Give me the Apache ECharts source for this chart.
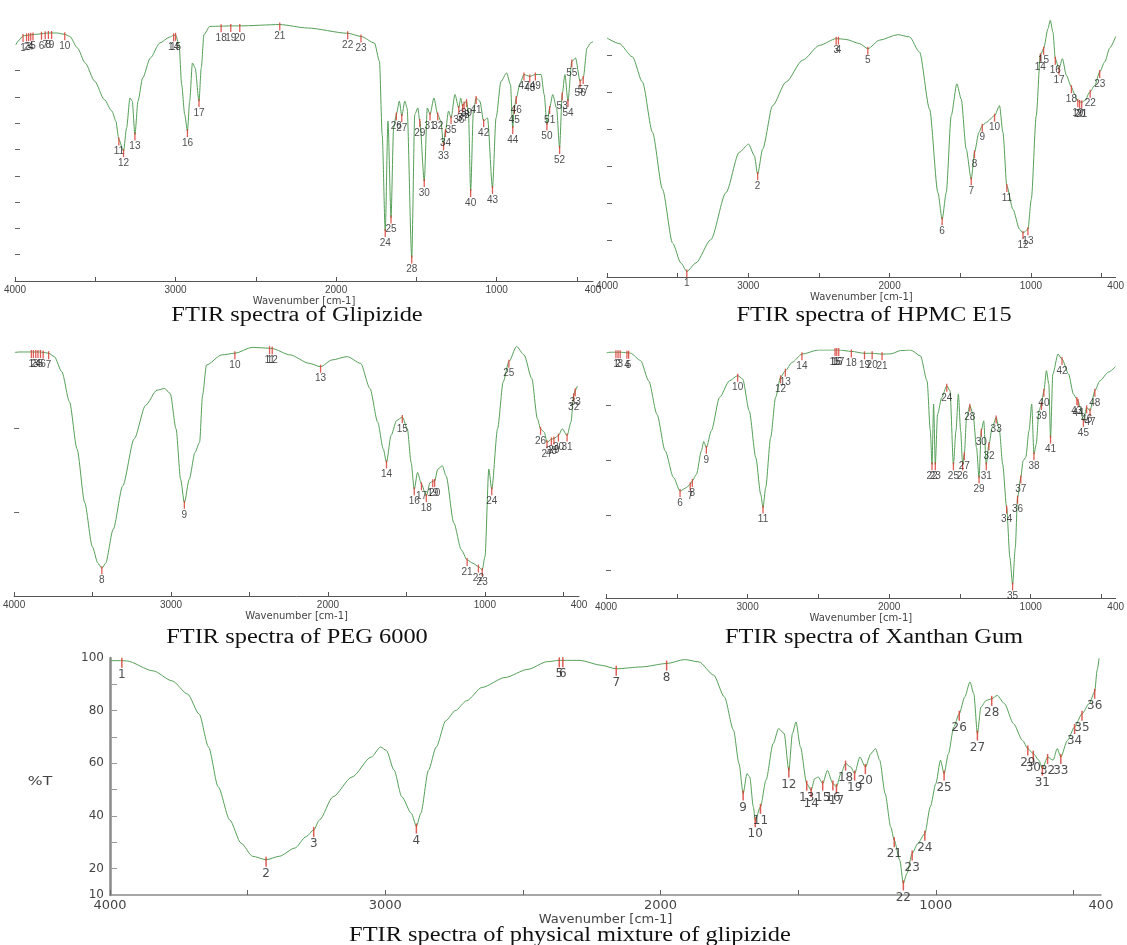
<!DOCTYPE html>
<html>
<head>
<meta charset="utf-8">
<title>FTIR spectra</title>
<script src="https://cdn.jsdelivr.net/npm/echarts@6/dist/echarts.min.js"></script>
<style>
  html, body { margin: 0; padding: 0; background: #ffffff; }
  #chart { width: 1127px; height: 945px; }
</style>
</head>
<body>
<div id="chart"></div>
<script>
// Wavenumber axis ticks and labels (cm-1)
const wavenumberTicks = [4000, 3500, 3000, 2500, 2000, 1500, 1000, 500];
const wavenumberLabels = [4000, 3000, 2000, 1000, 400];

const panelTitles = [
  'FTIR spectra of Glipizide',
  'FTIR spectra of HPMC E15',
  'FTIR spectra of PEG 6000',
  'FTIR spectra of Xanthan Gum',
  'FTIR spectra of physical mixture of glipizide'
];

// Spectrum traces: [wavenumber, %T]; peak picks: [peak no, wavenumber, %T]
const glipizideCurve = [
  [3995, 89.8], [3975, 91.6], [3870, 93.8], [3740, 94.3], [3659, 93.0], [3611, 88.6], [3563, 82.9],
  [3503, 75.9], [3444, 69.0], [3396, 64.6], [3372, 60.8], [3305, 58.2], [3284, 69.6], [3270, 68.4],
  [3234, 68.4], [3205, 77.2], [3157, 84.8], [3098, 90.5], [3038, 92.7], [2978, 89.9], [2962, 74.7],
  [2943, 63.3], [2912, 68.4], [2895, 82.9], [2878, 81.0], [2840, 81.0], [2823, 93.7], [2787, 96.8],
  [2179, 96.2], [1761, 90.5], [1730, 83.5], [1713, 55.7], [1677, 60.8], [1642, 58.2], [1606, 68.4],
  [1572, 68.4], [1558, 65.8], [1510, 63.3], [1491, 65.8], [1432, 65.8], [1391, 69.6], [1348, 60.8],
  [1300, 64.6], [1260, 70.9], [1224, 69.6], [1176, 64.6], [1145, 64.6], [1105, 68.4], [1057, 62.0],
  [1004, 62.0], [973, 75.9], [938, 79.1], [914, 74.7], [854, 75.3], [723, 78.5], [704, 70.9],
  [651, 70.9], [627, 65.8], [575, 78.5], [509, 84.8], [437, 88.6], [415, 90.5], [400, 91.0]
];
const glipizidePeaks = [
  [1, 3950, 93.2], [2, 3928, 93.4], [3, 3915, 93.5], [4, 3902, 93.6], [5, 3888, 93.7],
  [6, 3835, 94.0], [7, 3812, 94.2], [8, 3792, 94.3], [9, 3772, 94.3], [10, 3690, 93.8],
  [11, 3353, 53.8], [12, 3324, 49.4], [13, 3253, 55.7], [14, 3012, 93.4], [15, 3000, 93.6],
  [16, 2926, 57.0], [17, 2854, 68.4], [18, 2716, 96.9], [19, 2656, 97.0], [20, 2600, 97.0],
  [21, 2351, 97.5], [22, 1928, 94.2], [23, 1845, 93.0], [24, 1694, 19.0], [25, 1658, 24.1],
  [26, 1625, 63.3], [27, 1591, 62.7], [28, 1529, 8.9], [29, 1479, 60.8], [30, 1451, 38.0],
  [31, 1415, 63.3], [32, 1367, 63.3], [33, 1331, 51.9], [34, 1319, 57.0], [35, 1284, 62.0],
  [36, 1236, 65.8], [37, 1212, 66.5], [38, 1203, 67.5], [39, 1188, 68.4], [40, 1162, 34.2],
  [41, 1128, 69.6], [42, 1081, 60.8], [43, 1026, 35.4], [44, 900, 58.2], [45, 890, 65.8],
  [46, 878, 69.6], [47, 830, 78.5], [48, 794, 77.8], [49, 759, 78.5], [50, 687, 59.5],
  [51, 670, 65.8], [52, 608, 50.6], [53, 592, 70.9], [54, 556, 68.4], [55, 532, 83.5],
  [56, 480, 75.9], [57, 461, 77.2]
];

const hpmcCurve = [
  [4000, 94.6], [3914, 93.1], [3820, 89.5], [3749, 82.7], [3678, 69.1], [3607, 53.7], [3536, 39.2],
  [3477, 33.8], [3371, 33.8], [3265, 40.1], [3158, 52.8], [3064, 63.7], [2998, 65.9], [2957, 62.8],
  [2898, 64.6], [2828, 76.3], [2733, 82.7], [2615, 88.6], [2497, 92.6], [2308, 94.2], [2213, 93.1],
  [2072, 94.0], [1942, 95.5], [1859, 94.9], [1788, 90.8], [1717, 75.4], [1658, 52.8], [1599, 52.8],
  [1564, 73.6], [1524, 82.2], [1493, 78.1], [1458, 64.6], [1368, 69.1], [1316, 71.8], [1222, 76.3],
  [1198, 69.1], [1127, 48.3], [1080, 42.9], [997, 51.0], [962, 73.6], [879, 97.1], [863, 99.4],
  [844, 96.2], [777, 89.0], [749, 84.5], [690, 79.4], [619, 77.7], [548, 81.8], [478, 88.1],
  [440, 92.0], [400, 95.0]
];
const hpmcPeaks = [
  [1, 3435, 31.5], [2, 2934, 57.8], [3, 2378, 94.4], [4, 2362, 94.4], [5, 2154, 91.7],
  [6, 1628, 45.6], [7, 1422, 56.4], [8, 1399, 63.7], [9, 1344, 70.9], [10, 1257, 73.6],
  [11, 1170, 54.6], [12, 1056, 41.9], [13, 1021, 42.9], [14, 933, 89.9], [15, 910, 91.7],
  [16, 827, 89.0], [17, 801, 86.3], [18, 713, 81.3], [19, 668, 77.6], [20, 655, 77.3],
  [21, 640, 77.2], [22, 580, 80.1], [23, 513, 85.4]
];

const pegCurve = [
  [3995, 98.0], [3963, 98.1], [3744, 97.0], [3696, 93.4], [3647, 86.2], [3599, 75.0], [3550, 62.2],
  [3502, 51.8], [3466, 47.8], [3417, 47.8], [3369, 55.8], [3308, 66.2], [3235, 77.4], [3162, 85.4],
  [3090, 89.0], [3041, 89.4], [3005, 88.2], [2968, 79.8], [2939, 67.8], [2884, 67.8], [2847, 74.2],
  [2818, 76.6], [2799, 87.8], [2774, 95.0], [2677, 97.4], [2483, 99.2], [2241, 97.4], [2120, 95.4],
  [1974, 96.2], [1877, 97.0], [1792, 95.4], [1732, 89.4], [1683, 81.4], [1647, 75.0], [1598, 78.2],
  [1562, 81.8], [1494, 79.8], [1470, 71.8], [1429, 69.4], [1349, 67.0], [1300, 70.2], [1271, 71.0],
  [1247, 68.6], [1198, 57.4], [1150, 51.0], [1077, 47.8], [999, 49.4], [975, 70.2], [919, 79.8],
  [883, 91.0], [798, 99.4], [750, 97.4], [701, 91.8], [665, 82.2], [621, 79.0], [507, 79.8],
  [451, 81.4], [410, 90.0]
];
const pegPeaks = [
  [1, 3890, 98.1], [2, 3877, 98.1], [3, 3862, 98.1], [4, 3848, 98.1], [5, 3832, 98.1],
  [6, 3815, 98.0], [7, 3780, 97.8], [8, 3441, 46.6], [9, 2915, 62.2], [10, 2593, 97.8],
  [11, 2372, 99.0], [12, 2355, 98.9], [13, 2047, 94.6], [14, 1627, 71.8], [15, 1526, 82.6],
  [16, 1450, 65.4], [17, 1404, 66.6], [18, 1373, 63.8], [19, 1332, 67.3], [20, 1320, 67.4],
  [21, 1113, 48.6], [22, 1041, 47.0], [23, 1017, 46.2], [24, 956, 65.4], [25, 847, 95.8],
  [26, 645, 79.8], [27, 604, 76.6], [28, 576, 77.3], [29, 560, 77.5], [30, 531, 78.2],
  [31, 476, 78.2], [32, 434, 87.8], [33, 424, 89.0]
];

const xanthanCurve = [
  [3995, 99.0], [3965, 99.2], [3826, 98.8], [3756, 96.2], [3698, 88.8], [3640, 76.7], [3582, 63.4],
  [3523, 53.7], [3430, 50.1], [3361, 54.9], [3326, 63.4], [3310, 66.8], [3256, 70.7], [3198, 82.8],
  [3128, 88.8], [3035, 89.5], [2988, 77.9], [2942, 61.0], [2907, 47.6], [2872, 50.1], [2837, 68.2],
  [2802, 82.8], [2686, 95.5], [2500, 100.0], [1988, 98.6], [1918, 99.8], [1849, 100.0], [1779, 97.9],
  [1732, 88.8], [1709, 70.7], [1686, 80.4], [1658, 76.7], [1628, 82.8], [1570, 85.2], [1528, 70.7],
  [1511, 84.0], [1495, 70.7], [1453, 75.5], [1407, 76.7], [1383, 64.6], [1332, 74.3], [1272, 71.9],
  [1221, 70.7], [1198, 58.5], [1147, 24.6], [1109, 28.2], [1054, 59.8], [1035, 61.0], [1012, 70.7],
  [993, 80.4], [961, 65.8], [942, 77.9], [889, 92.5], [872, 87.6], [844, 91.3], [807, 98.5],
  [733, 91.3], [698, 84.0], [651, 79.2], [512, 88.8], [450, 92.0], [400, 94.0]
];
const xanthanPeaks = [
  [1, 3930, 99.2], [2, 3915, 99.2], [3, 3900, 99.2], [4, 3852, 99.0], [5, 3840, 99.0],
  [6, 3477, 48.8], [7, 3405, 51.3], [8, 3390, 52.5], [9, 3291, 64.5], [10, 3070, 90.7],
  [11, 2891, 42.8], [12, 2767, 90.1], [13, 2733, 92.5], [14, 2616, 98.5], [15, 2382, 100.0],
  [16, 2370, 100.0], [17, 2356, 100.0], [18, 2267, 99.5], [19, 2174, 98.8], [20, 2120, 98.8],
  [21, 2050, 98.5], [22, 1697, 58.5], [23, 1674, 58.5], [24, 1593, 87.0], [25, 1546, 58.5],
  [26, 1481, 58.5], [27, 1469, 62.2], [28, 1430, 79.8], [29, 1365, 53.7], [30, 1349, 70.7],
  [31, 1314, 58.5], [32, 1295, 65.8], [33, 1244, 75.5], [34, 1170, 42.8], [35, 1128, 14.9],
  [36, 1093, 46.4], [37, 1070, 53.7], [38, 977, 62.2], [39, 924, 80.4], [40, 907, 85.2],
  [41, 860, 68.2], [42, 779, 96.7], [43, 674, 82.2], [44, 665, 81.5], [45, 628, 74.3],
  [46, 605, 79.2], [47, 581, 78.0], [48, 547, 85.2]
];

const mixtureCurve = [
  [4000, 99.0], [3940, 98.9], [3843, 95.1], [3774, 91.3], [3718, 86.3], [3676, 78.7], [3642, 66.2],
  [3607, 51.1], [3565, 38.5], [3524, 29.7], [3482, 24.7], [3385, 24.7], [3329, 27.8], [3287, 32.2],
  [3239, 38.5], [3190, 47.3], [3121, 54.8], [3051, 62.4], [3017, 66.2], [2996, 64.9], [2968, 57.4],
  [2940, 47.3], [2905, 41.0], [2871, 41.0], [2843, 57.4], [2815, 66.2], [2780, 76.2], [2746, 80.0],
  [2704, 83.8], [2649, 88.8], [2565, 92.6], [2482, 95.7], [2412, 98.6], [2293, 99.1], [2214, 97.2],
  [2070, 96.6], [1912, 99.4], [1860, 98.5], [1807, 93.5], [1768, 85.2], [1735, 72.6], [1715, 59.9],
  [1686, 56.1], [1676, 54.8], [1663, 43.5], [1617, 53.6], [1591, 67.5], [1571, 73.2], [1551, 71.3],
  [1521, 71.3], [1508, 75.7], [1492, 66.3], [1440, 54.2], [1427, 54.8], [1394, 57.3], [1345, 56.1],
  [1309, 58.6], [1276, 62.4], [1236, 63.7], [1219, 65.6], [1204, 61.2], [1184, 48.5], [1164, 35.9],
  [1131, 23.2], [1105, 18.2], [1066, 29.5], [1020, 43.5], [1000, 52.3], [983, 61.2], [954, 63.7],
  [935, 73.8], [895, 85.2], [876, 90.9], [862, 86.4], [836, 81.4], [817, 83.9], [777, 85.8],
  [751, 82.7], [718, 75.1], [685, 68.7], [626, 61.2], [574, 61.2], [559, 65.6], [522, 68.7],
  [443, 82.7], [414, 95.4], [407, 99.9]
];
const mixturePeaks = [
  [1, 3957, 99.0], [2, 3433, 23.4], [3, 3260, 34.7], [4, 2887, 36.0], [5, 2368, 99.1],
  [6, 2355, 99.1], [7, 2161, 95.9], [8, 1978, 97.9], [9, 1700, 48.5], [10, 1656, 38.4],
  [11, 1637, 43.5], [12, 1534, 57.3], [13, 1469, 52.3], [14, 1453, 49.8], [15, 1411, 52.3],
  [16, 1374, 52.3], [17, 1361, 51.1], [18, 1328, 59.9], [19, 1295, 56.1], [20, 1256, 58.6],
  [21, 1151, 30.8], [22, 1118, 14.4], [23, 1086, 25.8], [24, 1040, 33.3], [25, 970, 56.1],
  [26, 915, 78.8], [27, 849, 71.3], [28, 797, 84.5], [29, 666, 65.6], [30, 646, 63.7],
  [31, 613, 58.0], [32, 594, 62.4], [33, 546, 62.4], [34, 496, 73.8], [35, 469, 78.8],
  [36, 423, 87.2]
];

// Panel geometry and axis styling
const panels = [
  { curve: glipizideCurve, peaks: glipizidePeaks, grid: [15, 18, 578, 263], yMin: 0, yMax: 100,
    yTicks: [10, 20, 30, 40, 50, 60, 70, 80], caption: [297, 316], big: false },
  { curve: hpmcCurve, peaks: hpmcPeaks, grid: [607, 18, 528, 259], yMin: 30, yMax: 100,
    yTicks: [40, 50, 60, 70, 80, 90], caption: [874, 316], big: false },
  { curve: pegCurve, peaks: pegPeaks, grid: [10, 344, 569, 252], yMin: 40, yMax: 100,
    yTicks: [60, 80], caption: [297, 638], big: false },
  { curve: xanthanCurve, peaks: xanthanPeaks, grid: [606, 350, 531, 248], yMin: 10, yMax: 100,
    yTicks: [20, 40, 60, 80], caption: [874, 638], big: false },
  { curve: mixtureCurve, peaks: mixturePeaks, grid: [110, 658, 991, 237], yMin: 10, yMax: 100,
    yTicks: [20, 30, 40, 50, 60, 70, 80, 90], caption: [570, 936], big: true }
];

// Join the trace with the picked peaks so the line passes through every marker
function spectrumLine(curve, peaks) {
  const pts = curve.concat(peaks.map(p => [p[1], p[2]]));
  pts.sort((a, b) => b[0] - a[0]);
  return pts;
}

const plainNumber = v => String(v);

const grids = [], xAxes = [], yAxes = [], series = [], graphics = [];

panels.forEach((p, i) => {
  grids.push({ left: p.grid[0], top: p.grid[1], width: p.grid[2], height: p.grid[3], containLabel: false });

  xAxes.push({
    gridIndex: i, type: 'value', min: 400, max: 4000, inverse: true,
    axisLine: { show: true, onZero: false, lineStyle: { color: p.big ? '#8a8a8a' : '#555', width: p.big ? 1.5 : 1 } },
    axisTick: { show: true, inside: true, length: p.big ? 5 : 4, customValues: wavenumberTicks,
                lineStyle: { color: p.big ? '#666' : '#555' } },
    axisLabel: { customValues: wavenumberLabels, margin: 4, formatter: plainNumber,
                 fontFamily: p.big ? 'DejaVu Sans' : 'Liberation Sans', fontSize: p.big ? 13 : 10, color: '#444' },
    splitLine: { show: false },
    name: 'Wavenumber [cm-1]', nameLocation: 'middle', nameGap: p.big ? 17 : 15,
    nameTextStyle: { fontFamily: 'DejaVu Sans', fontSize: p.big ? 13 : 10, color: '#444' }
  });

  if (p.big) {
    yAxes.push({
      gridIndex: i, type: 'value', min: p.yMin, max: p.yMax,
      axisLine: { show: true, lineStyle: { color: '#8a8a8a', width: 2.5 } },
      axisTick: { show: true, inside: true, length: 7, customValues: p.yTicks, lineStyle: { color: '#999' } },
      axisLabel: { customValues: [10, 20, 40, 60, 80, 100], margin: 6, formatter: plainNumber,
                   fontFamily: 'DejaVu Sans', fontSize: 12, color: '#444' },
      splitLine: { show: false }
    });
  } else {
    yAxes.push({
      gridIndex: i, type: 'value', min: p.yMin, max: p.yMax,
      axisLine: { show: false },
      axisTick: { show: true, inside: true, length: 5, customValues: p.yTicks, lineStyle: { color: '#666' } },
      axisLabel: { show: false },
      splitLine: { show: false }
    });
  }

  series.push({
    type: 'line', xAxisIndex: i, yAxisIndex: i,
    data: spectrumLine(p.curve, p.peaks),
    symbol: 'none', showSymbol: false, smooth: 0.25, smoothMonotone: 'x',
    lineStyle: { color: '#55a058', width: 1 }, silent: true, z: 2
  });

  series.push({
    type: 'scatter', xAxisIndex: i, yAxisIndex: i,
    data: p.peaks.map(k => [k[1], k[2], k[0]]),
    symbol: 'rect', symbolSize: p.big ? [1.5, 10] : [1.3, 8], symbolOffset: [0, 2],
    itemStyle: { color: '#d8342c' }, z: 3, silent: true,
    label: {
      show: true, position: 'bottom', distance: 1,
      formatter: q => String(q.data[2]),
      fontFamily: p.big ? 'DejaVu Sans' : 'Liberation Sans', fontSize: p.big ? 12 : 10, color: '#222'
    },
    labelLayout: { hideOverlap: false }
  });

  graphics.push({
    type: 'text', x: p.caption[0], y: p.caption[1], scaleX: 1.22, z: 10,
    style: {
      text: panelTitles[i], font: '20px "Liberation Serif"', fill: '#111',
      align: 'center', verticalAlign: 'middle', textAlign: 'center', textVerticalAlign: 'middle'
    }
  });
});

graphics.push({
  type: 'text', x: 40, y: 782, scaleX: 1.3, z: 10,
  style: { text: '%T', font: '12px "DejaVu Sans"', fill: '#444',
           align: 'center', verticalAlign: 'middle', textAlign: 'center', textVerticalAlign: 'middle' }
});

const chart = echarts.init(document.getElementById('chart'), null, { renderer: 'canvas' });
chart.setOption({
  backgroundColor: '#ffffff',
  animation: false,
  grid: grids,
  xAxis: xAxes,
  yAxis: yAxes,
  series: series,
  graphic: graphics
});
</script>
</body>
</html>
